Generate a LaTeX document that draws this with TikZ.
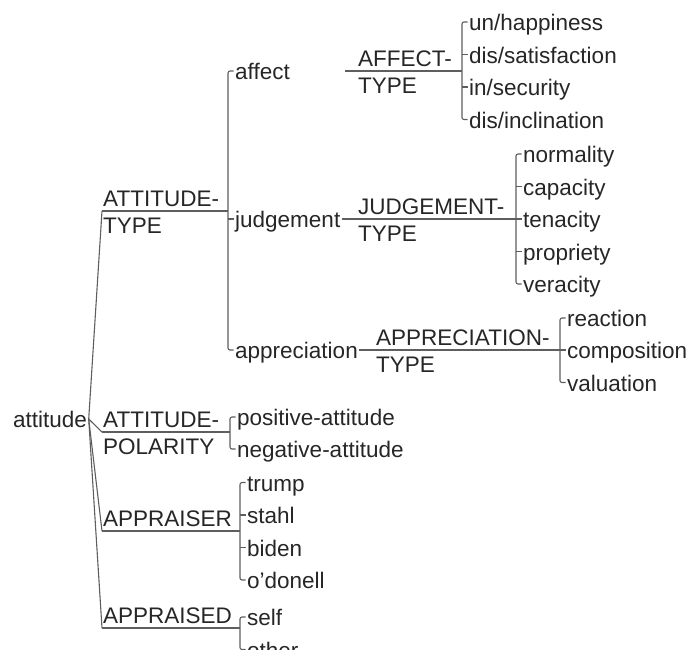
\documentclass[tikz,border=0pt]{standalone}
\usepackage{fontspec}
\setmainfont{Liberation Sans}
\definecolor{txt}{HTML}{262626}
\definecolor{lncol}{HTML}{5E5E5E}
\begin{document}
\begin{tikzpicture}[x=1pt,y=-1pt,
  every node/.style={font=\fontsize{22.5}{27}\selectfont, text=txt},
  item/.style={anchor=west, inner xsep=1.5pt, inner ysep=0pt, text height=17pt, text depth=0pt},
  sys/.style={anchor=base west, inner sep=0pt},
  ln/.style={draw=lncol, line width=1.1pt},
  br/.style={ln, rounded corners=2pt}]
\useasboundingbox (0,0) rectangle (690,649);

% root
\node[item] (root) at (11.5,419) {attitude};

% system bars off the root
\coordinate (atL) at (102,211); \coordinate (atR) at (228,211);
\coordinate (apL) at (102,432); \coordinate (apR) at (230,432);
\coordinate (arL) at (102,531); \coordinate (arR) at (240,531);
\coordinate (adL) at (102,628); \coordinate (adR) at (240,628);
\draw[ln] (root.east) -- (atL);
\draw[ln] (root.east) -- (apL);
\draw[ln] (root.east) -- (arL);
\draw[ln] (root.east) -- (adL);
\draw[ln] (atL) -- (atR);
\draw[ln] (apL) -- (apR);
\draw[ln] (arL) -- (arR);
\draw[ln] (adL) -- (adR);

\node[sys] (atT1) at (103,206) {ATTITUDE-};
\node[sys] (atT2) at (103,233) {TYPE};
\node[sys] (apT1) at (103,427) {ATTITUDE-};
\node[sys] (apT2) at (103,454) {POLARITY};
\node[sys] (arT1) at (103,526) {APPRAISER};
\node[sys] (adT1) at (103,623) {APPRAISED};

% ATTITUDE-TYPE options
\node[item] (affect) at (233.5,71) {affect};
\node[item] (judgement) at (233.5,219) {judgement};
\node[item] (appreciation) at (233.5,350) {appreciation};
\draw[br] (affect.west) -- ++(-5.5,0) |- (appreciation.west);
\draw[ln] (judgement.west) -- ++(-5.5,0);

% AFFECT-TYPE
\coordinate (afL) at (345,71); \coordinate (afR) at (462,71);
\draw[ln] (afL) -- (afR);
\node[sys] (afT1) at (358,66) {AFFECT-};
\node[sys] (afT2) at (358,93) {TYPE};
\node[item] (unh) at (467.5,22) {un/happiness};
\node[item] (diss) at (467.5,54.5) {dis/satisfaction};
\node[item] (insec) at (467.5,87) {in/security};
\node[item] (disi) at (467.5,119.5) {dis/inclination};
\draw[br] (unh.west) -- ++(-5.5,0) |- (disi.west);
\draw[ln] (diss.west) -- ++(-5.5,0);
\draw[ln] (insec.west) -- ++(-5.5,0);

% JUDGEMENT-TYPE
\coordinate (juR) at (516,219);
\draw[ln] (judgement.east) -- (juR);
\node[sys] (juT1) at (358,214) {JUDGEMENT-};
\node[sys] (juT2) at (358,241) {TYPE};
\node[item] (norm) at (521.5,154) {normality};
\node[item] (capa) at (521.5,186.5) {capacity};
\node[item] (tena) at (521.5,219) {tenacity};
\node[item] (prop) at (521.5,251.5) {propriety};
\node[item] (vera) at (521.5,284) {veracity};
\draw[br] (norm.west) -- ++(-5.5,0) |- (vera.west);
\draw[ln] (capa.west) -- ++(-5.5,0);
\draw[ln] (tena.west) -- ++(-5.5,0);
\draw[ln] (prop.west) -- ++(-5.5,0);

% APPRECIATION-TYPE
\coordinate (aqR) at (560,350);
\draw[ln] (appreciation.east) -- (aqR);
\node[sys] (aqT1) at (376,345) {APPRECIATION-};
\node[sys] (aqT2) at (376,372) {TYPE};
\node[item] (reac) at (565.5,318) {reaction};
\node[item] (comp) at (565.5,350) {composition};
\node[item] (valu) at (565.5,382.5) {valuation};
\draw[br] (reac.west) -- ++(-5.5,0) |- (valu.west);
\draw[ln] (comp.west) -- ++(-5.5,0);

% ATTITUDE-POLARITY
\node[item] (pos) at (235.5,417) {positive-attitude};
\node[item] (neg) at (235.5,449) {negative-attitude};
\draw[br] (pos.west) -- ++(-5.5,0) |- (neg.west);

% APPRAISER
\node[item] (trump) at (245.5,482.5) {trump};
\node[item] (stahl) at (245.5,515) {stahl};
\node[item] (biden) at (245.5,547.5) {biden};
\node[item] (odon) at (245.5,580) {o'donell};
\draw[br] (trump.west) -- ++(-5.5,0) |- (odon.west);
\draw[ln] (stahl.west) -- ++(-5.5,0);
\draw[ln] (biden.west) -- ++(-5.5,0);

% APPRAISED
\node[item] (self) at (245.5,617) {self};
\node[item] (other) at (245.5,649.5) {other};
\draw[br] (self.west) -- ++(-5.5,0) |- (other.west);
\end{tikzpicture}
\end{document}
